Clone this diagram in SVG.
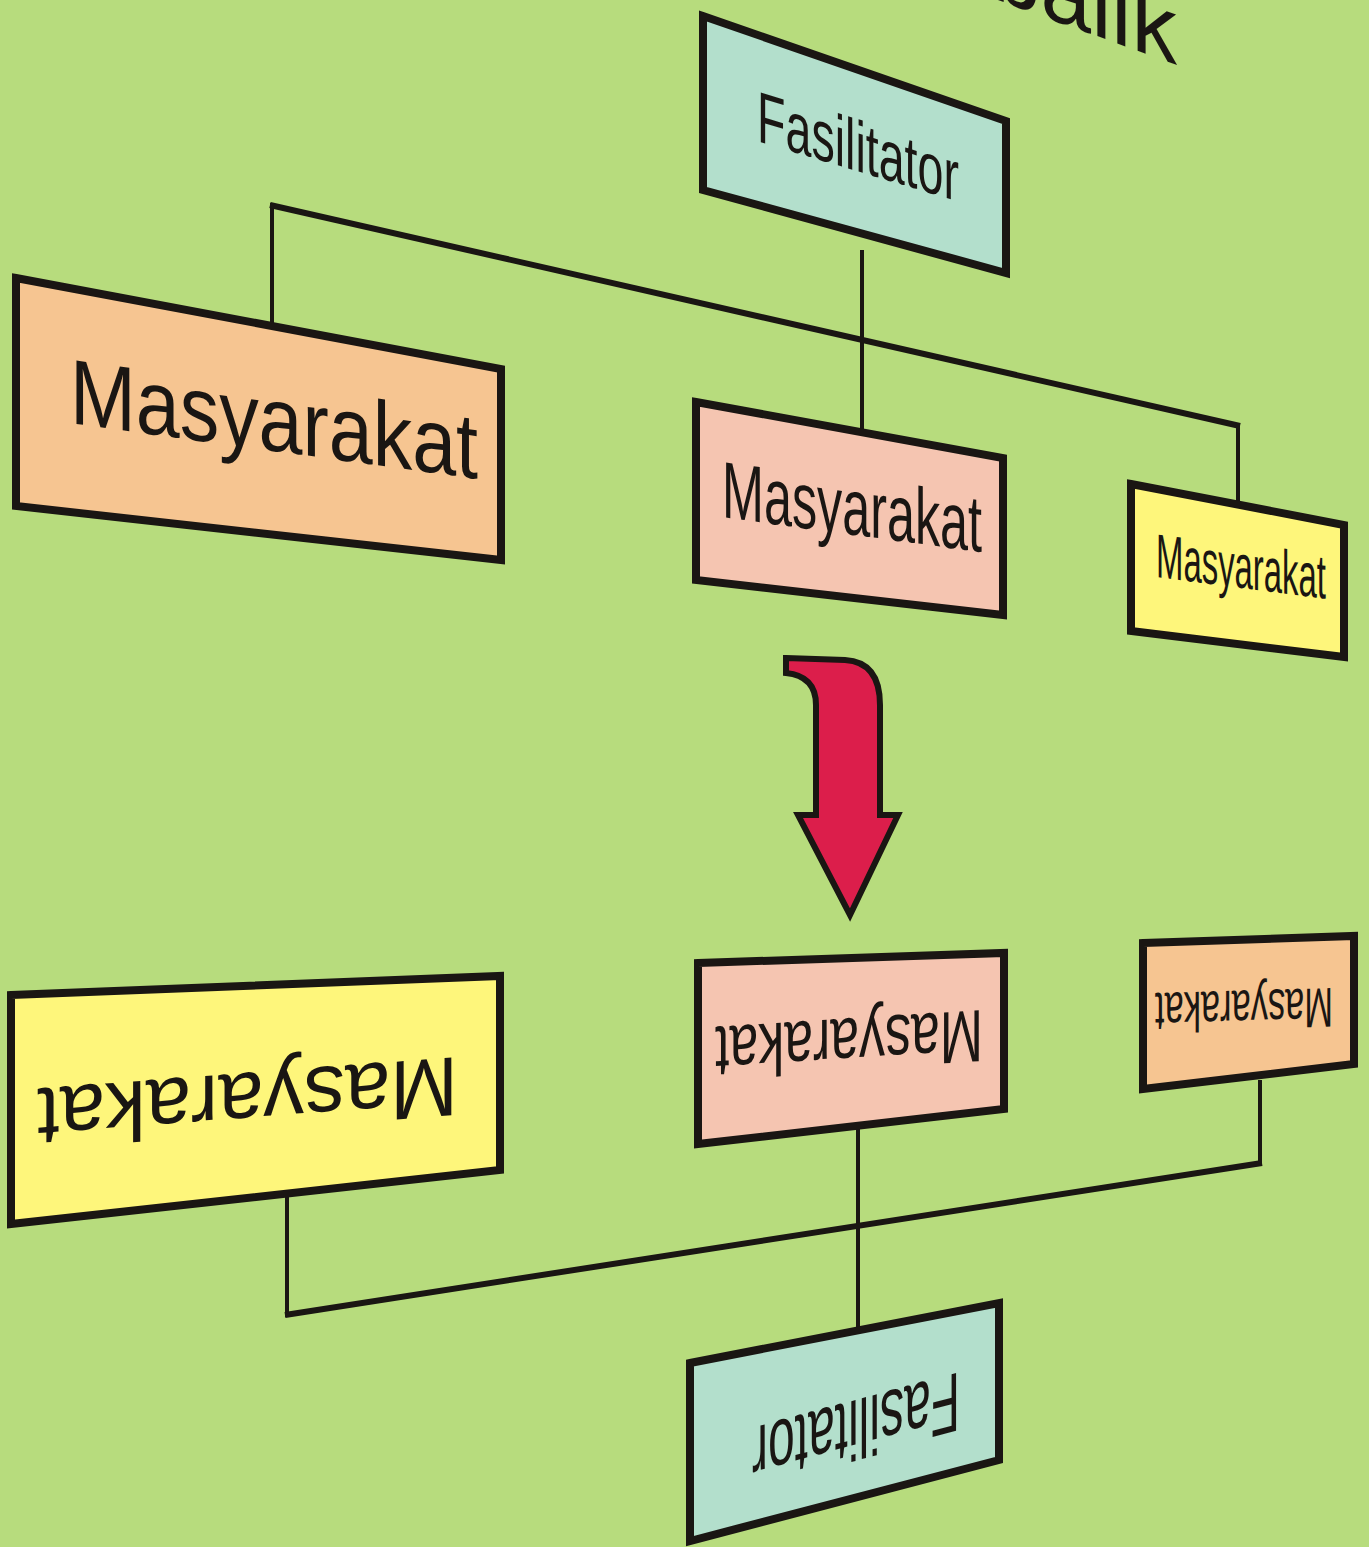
<svg xmlns="http://www.w3.org/2000/svg" width="1369" height="1547" viewBox="0 0 1369 1547">
<style>
.box{stroke:#1a1613;stroke-width:8;stroke-linejoin:miter}
.fas{fill:#b3dfcc}
.ora{fill:#f6c591}
.pin{fill:#f5c5b1}
.yel{fill:#fef67b}
.lbl{font-family:"Liberation Sans",Arial,sans-serif;fill:#1a1613}
.thin{stroke:#1a1613;stroke-width:4;fill:none}
.thick{stroke:#1a1613;stroke-width:6;fill:none}
</style>
<rect x="0" y="0" width="1369" height="1547" fill="#b7dc7d"/>
<text class="lbl" font-size="95" transform="translate(990,-3) skewY(20)" textLength="187" lengthAdjust="spacingAndGlyphs">balik</text>
<g id="connectors">
<line class="thin" x1="862" y1="250" x2="862" y2="434"/>
<line class="thin" x1="272" y1="203" x2="272" y2="328"/>
<line class="thick" x1="270" y1="205" x2="1240" y2="426"/>
<line class="thin" x1="1238" y1="424" x2="1238" y2="510"/>
<line class="thin" x1="858" y1="1125" x2="858" y2="1335"/>
<line class="thin" x1="287" y1="1190" x2="287" y2="1317"/>
<line class="thick" x1="285" y1="1315" x2="1262" y2="1163"/>
<line class="thin" x1="1260" y1="1080" x2="1260" y2="1166"/>
</g>
<g id="fasilitator-top">
<polygon class="box fas" points="703,16 1006,121 1006,273 703,190"/>
<text class="lbl" font-size="72" transform="translate(757,141) skewY(16.7)" textLength="202" lengthAdjust="spacingAndGlyphs">Fasilitator</text>
</g>
<g id="masyarakat-top-left">
<polygon class="box ora" points="16,278 501,369 501,560 16,506"/>
<text class="lbl" font-size="92" transform="translate(70,423) skewY(7.8)" textLength="408" lengthAdjust="spacingAndGlyphs">Masyarakat</text>
</g>
<g id="masyarakat-top-mid">
<polygon class="box pin" points="696,402 1003,458 1003,615 696,580"/>
<text class="lbl" font-size="80" transform="translate(722,517) skewY(7.7)" textLength="260" lengthAdjust="spacingAndGlyphs">Masyarakat</text>
</g>
<g id="masyarakat-top-right">
<polygon class="box yel" points="1131,484 1344,525 1344,657 1131,631"/>
<text class="lbl" font-size="62" transform="translate(1156,577) skewY(7.3)" textLength="170" lengthAdjust="spacingAndGlyphs">Masyarakat</text>
</g>
<g id="arrow">
<path d="M786,658 L845,660 Q880,662 880,705 L880,815 L898,815 L850,915 L798,815 L816,815 L816,705 Q816,676 786,673 Z" fill="#dc1e4b" stroke="#1a1613" stroke-width="6" stroke-linejoin="miter"/>
</g>
<g id="masyarakat-bottom-left">
<polygon class="box yel" points="11,995 500,976 500,1170 11,1224"/>
<text class="lbl" font-size="84" transform="translate(458,1057) skewY(-4.3) rotate(180)" textLength="421" lengthAdjust="spacingAndGlyphs">Masyarakat</text>
</g>
<g id="masyarakat-bottom-mid">
<polygon class="box pin" points="698,963 1004,953 1004,1109 698,1144"/>
<text class="lbl" font-size="74" transform="translate(983,1010) skewY(-3.6) rotate(180)" textLength="268" lengthAdjust="spacingAndGlyphs">Masyarakat</text>
</g>
<g id="masyarakat-bottom-right">
<polygon class="box ora" points="1143,943 1354,936 1354,1064 1143,1089"/>
<text class="lbl" font-size="56" transform="translate(1333,988) skewY(-1.6) rotate(180)" textLength="178" lengthAdjust="spacingAndGlyphs">Masyarakat</text>
</g>
<g id="fasilitator-bottom">
<polygon class="box fas" points="690,1363 999,1303 999,1460 690,1541"/>
<text class="lbl" font-size="84" transform="translate(960,1372) skewY(-15) rotate(180)" textLength="208" lengthAdjust="spacingAndGlyphs">Fasilitator</text>
</g>
</svg>
